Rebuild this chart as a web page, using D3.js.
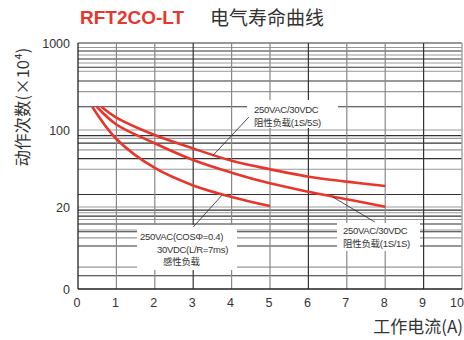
<!DOCTYPE html>
<html>
<head>
<meta charset="utf-8">
<script src="https://cdn.jsdelivr.net/npm/d3@7"></script>
<style>
  body { margin: 0; background: #fff; }
  svg { display: block; font-family: "Liberation Sans", Arial, sans-serif; }
</style>
</head>
<body>
<svg id="chart" width="464" height="340"></svg>
<script>
// curve data: current (A) vs operations (x10^4)
var xs1S5S = [0.61, 1, 2, 3, 4, 5, 6, 7, 8];
var ys1S5S = [185, 139, 90, 67.9, 52.6, 44, 37.7, 34, 31];
var xs1S1S = [0.49, 1, 2, 3, 4, 5, 6, 7, 8];
var ys1S1S = [185, 115.7, 75.8, 53.4, 41, 32.8, 27.5, 23.5, 20.1];
var xsInd = [0.37, 1, 2, 3, 4, 5];
var ysInd = [185, 82.9, 45.2, 31.4, 24.7, 20.4];

// axis ticks
var xTicks = [0, 1, 2, 3, 4, 5, 6, 7, 8, 9, 10];
var yTickValues = [2, 20, 100, 1000];
var yTickLabels = ["0", "20", "100", "1000"];

// horizontal grid lines (semi-log paper)
var gridTop = [888, 809, 728, 655, 589, 526, 473, 366, 276, 185];
var gridMid = [89, 84, 76, 66, 55, 44, 26];
var gridLow = [18.3, 17, 15.5, 14.1, 12.4, 10.5, 10, 8.4, 6.7, 3.7, 2.9];

var svg = d3.select("#chart");

// the paper is hand drawn: each section has its own decade length
var x = d3.scaleLinear().domain([0, 10]).range([78, 462]);
var y = d3.scaleLog().domain([2, 20, 100, 1000]).range([289, 207, 130, 43]);

var red = "#e8362c";

// title
svg.append("text")
    .attr("x", 80).attr("y", 24)
    .attr("font-size", 19).attr("font-weight", "bold")
    .attr("fill", red)
    .text("RFT2CO-LT");
svg.append("text")
    .attr("x", 210).attr("y", 25)
    .attr("font-size", 19)
    .attr("font-family", "'Noto Sans CJK SC', sans-serif")
    .attr("fill", "#333")
    .text("电气寿命曲线");

// grid
var hLines = [1000].concat(gridTop, [100], gridMid, [20], gridLow);
svg.append("g").selectAll("line")
    .data(hLines).enter()
    .append("line")
    .attr("x1", x(0)).attr("x2", x(10))
    .attr("y1", function (d) { return y(d); })
    .attr("y2", function (d) { return y(d); })
    .attr("stroke", function (d, i) { return i % 2 ? "#999" : "#333"; })
    .attr("stroke-width", 1.1);

svg.append("g").selectAll("line")
    .data(xTicks.slice(1)).enter()
    .append("line")
    .attr("x1", function (d) { return x(d); })
    .attr("x2", function (d) { return x(d); })
    .attr("y1", y(1000)).attr("y2", y(2))
    .attr("stroke", function (d, i) { return d === 10 ? "#aaa" : (i % 3 === 2 ? "#333" : "#888"); })
    .attr("stroke-width", function (d) { return d === 10 ? 1.6 : 1.2; });

// axis lines
svg.append("line")
    .attr("x1", x(0)).attr("x2", x(0))
    .attr("y1", y(1000)).attr("y2", y(2))
    .attr("stroke", "#222").attr("stroke-width", 1.3);
svg.append("line")
    .attr("x1", x(0)).attr("x2", x(10))
    .attr("y1", y(2)).attr("y2", y(2))
    .attr("stroke", "#222").attr("stroke-width", 1.3);

// tick labels
svg.append("g").selectAll("text")
    .data(yTickValues).enter()
    .append("text")
    .attr("x", 70)
    .attr("y", function (d) { return y(d) + 4.5; })
    .attr("text-anchor", "end")
    .attr("font-size", 12.5).attr("fill", "#333")
    .text(function (d, i) { return yTickLabels[i]; });

svg.append("g").selectAll("text")
    .data(xTicks).enter()
    .append("text")
    .attr("x", function (d) { return d === 10 ? 464 : x(d) - 1; })
    .attr("y", 307)
    .attr("text-anchor", function (d) { return d === 10 ? "end" : "middle"; })
    .attr("font-size", 12.5).attr("fill", "#333")
    .text(function (d) { return d; });

// axis titles
svg.append("text")
    .attr("transform", "translate(29,107) rotate(-90)")
    .attr("text-anchor", "middle")
    .attr("font-size", 16.5)
    .attr("font-family", "'Noto Sans CJK SC', sans-serif")
    .attr("fill", "#333")
    .text("动作次数(×10⁴)");
svg.append("text")
    .attr("x", 463).attr("y", 333)
    .attr("text-anchor", "end")
    .attr("font-size", 17)
    .attr("font-family", "'Noto Sans CJK SC', sans-serif")
    .attr("fill", "#333")
    .text("工作电流(A)");

// white boxes behind the notes
var boxes = [
    { x0: 247, y0: 100, x1: 338, y1: 128 },
    { x0: 137, y0: 225, x1: 237, y1: 270 },
    { x0: 337, y0: 223, x1: 420, y1: 251 }
];
svg.append("g").selectAll("rect")
    .data(boxes).enter()
    .append("rect")
    .attr("x", function (d) { return d.x0; })
    .attr("y", function (d) { return d.y0; })
    .attr("width", function (d) { return d.x1 - d.x0; })
    .attr("height", function (d) { return d.y1 - d.y0; })
    .attr("fill", "#fff");

// curves
var line = d3.line()
    .x(function (d) { return x(d[0]); })
    .y(function (d) { return y(d[1]); })
    .curve(d3.curveCatmullRom.alpha(0.5));

[[xs1S5S, ys1S5S], [xs1S1S, ys1S1S], [xsInd, ysInd]].forEach(function (s) {
    var pts = s[0].map(function (v, i) { return [v, s[1][i]]; });
    svg.append("path")
        .datum(pts)
        .attr("d", line)
        .attr("fill", "none")
        .attr("stroke", red)
        .attr("stroke-width", 2.6);
});

// leader lines, in data units
var leaders = [
    [[4.45, 141], [3.52, 59]],
    [[3.0, 11.4], [3.75, 25.6]],
    [[6.64, 24.6], [7.73, 13.1]]
];
svg.append("g").selectAll("line")
    .data(leaders).enter()
    .append("line")
    .attr("x1", function (d) { return x(d[0][0]); })
    .attr("y1", function (d) { return y(d[0][1]); })
    .attr("x2", function (d) { return x(d[1][0]); })
    .attr("y2", function (d) { return y(d[1][1]); })
    .attr("stroke", "#222").attr("stroke-width", 0.8);

// notes
var notes = [
    { x: 254, y: 113, t: "250VAC/30VDC" },
    { x: 254, y: 126, t: "阻性负载(1S/5S)" },
    { x: 140, y: 240, t: "250VAC(COSΦ=0.4)" },
    { x: 157, y: 252.5, t: "30VDC(L/R=7ms)" },
    { x: 163, y: 265, t: "感性负载" },
    { x: 343, y: 234, t: "250VAC/30VDC" },
    { x: 343, y: 246.5, t: "阻性负载(1S/1S)" }
];
svg.append("g").selectAll("text")
    .data(notes).enter()
    .append("text")
    .attr("x", function (d) { return d.x; })
    .attr("y", function (d) { return d.y; })
    .attr("font-size", 9.5)
    .attr("letter-spacing", -0.3)
    .attr("font-family", "'Liberation Sans', 'Noto Sans CJK SC', sans-serif")
    .attr("fill", "#333")
    .text(function (d) { return d.t; });
</script>
</body>
</html>
